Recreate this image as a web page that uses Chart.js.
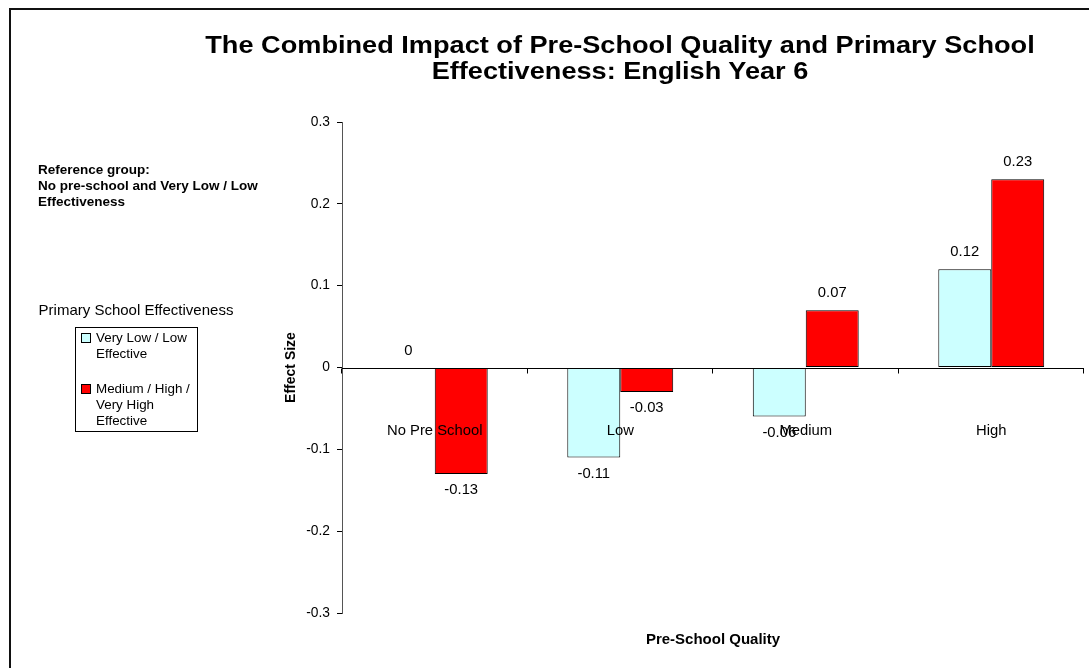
<!DOCTYPE html>
<html>
<head>
<meta charset="utf-8">
<script src="https://cdn.jsdelivr.net/npm/chart.js@4"></script>
<style>
  html, body { margin: 0; padding: 0; background: #fff; }
  body { width: 1089px; height: 668px; position: relative; overflow: hidden; font-family: "Liberation Sans", Arial, sans-serif; color: #000; }
  #frame { position: absolute; left: 9px; top: 8px; width: 1200px; height: 700px; border-left: 2px solid #111; border-top: 2px solid #111; }
  #wrap { position: absolute; left: 0; top: 0; width: 1089px; height: 668px; }
  .title { position: absolute; left: 170px; width: 900px; top: 32px; text-align: center; font-weight: bold; font-size: 23px; line-height: 26px; transform: scaleX(1.18); transform-origin: 450px 0; }
  .ref { position: absolute; left: 38px; top: 162px; font-weight: bold; font-size: 13.5px; line-height: 16px; }
  .legtitle { position: absolute; left: 30px; top: 301px; width: 212px; text-align: center; font-size: 15px; }
  .legend { position: absolute; left: 75px; top: 327px; width: 123px; height: 105px; border: 1px solid #000; font-size: 13.4px; line-height: 16px; box-sizing: border-box; }
  .item { position: absolute; left: 20px; width: 100px; }
  .sw { position: absolute; left: -15px; top: 3px; width: 8px; height: 8px; border: 1px solid #000; }
</style>
</head>
<body>
<div id="frame"></div>
<div id="wrap"><canvas id="chart"></canvas></div>
<div class="title">The Combined Impact of Pre-School Quality and Primary School<br>Effectiveness: English Year 6</div>
<div class="ref">Reference group:<br>No pre-school and Very Low / Low<br>Effectiveness</div>
<div class="legtitle">Primary School Effectiveness</div>
<div class="legend">
  <div class="item" style="top:2px"><span class="sw" style="background:#ccffff"></span>Very Low / Low Effective</div>
  <div class="item" style="top:53px"><span class="sw" style="background:#ff0000"></span>Medium / High / Very High Effective</div>
</div>
<script>
// categories and series
const categories = ["No Pre School", "Low", "Medium", "High"];
const lowEffective = [0, -0.11, -0.06, 0.12];
const highEffective = [-0.13, -0.03, 0.07, 0.23];
const seriesNames = ["Very Low / Low Effective", "Medium / High / Very High Effective"];

const FONT = "'Liberation Sans', Arial, sans-serif";

// zero line, category ticks, category labels and value labels
const overlay = {
  id: "overlay",
  afterDatasetsDraw(chart) {
    const { ctx, chartArea } = chart;
    const x = chart.scales.x, y = chart.scales.y;
    const y0 = Math.round(y.getPixelForValue(0)) + 0.5;
    ctx.save();
    ctx.strokeStyle = "#000";
    ctx.lineWidth = 1;
    ctx.beginPath();
    ctx.moveTo(chartArea.left, y0);
    ctx.lineTo(chartArea.right, y0);
    const bounds = [chartArea.left];
    for (let i = 1; i < categories.length; i++) bounds.push((x.getPixelForValue(i - 1) + x.getPixelForValue(i)) / 2);
    bounds.push(chartArea.right);
    bounds.forEach((b) => { const bx = Math.round(b) - 0.5; ctx.moveTo(bx, y0); ctx.lineTo(bx, y0 + 5); });
    ctx.stroke();

    ctx.fillStyle = "#000";
    ctx.font = "14.8px " + FONT;
    ctx.textAlign = "center";
    ctx.textBaseline = "middle";
    categories.forEach((c, i) => ctx.fillText(c, x.getPixelForValue(i), y0 + 62));

    chart.data.datasets.forEach((ds, di) => {
      chart.getDatasetMeta(di).data.forEach((bar, i) => {
        const v = ds.data[i];
        const ty = v >= 0 ? bar.y - 17 : bar.y + 16;
        ctx.fillText(String(v), bar.x, ty);
      });
    });
    ctx.restore();
  }
};

new Chart(document.getElementById("chart"), {
  type: "bar",
  data: {
    labels: categories,
    datasets: [
      { label: seriesNames[0], data: lowEffective, backgroundColor: "#ccffff", borderColor: "#000", borderWidth: 1, borderSkipped: false },
      { label: seriesNames[1], data: highEffective, backgroundColor: "#ff0000", borderColor: "#000", borderWidth: 1, borderSkipped: false },
    ],
  },
  options: {
    responsive: true,
    maintainAspectRatio: false,
    animation: false,
    layout: { padding: { left: 280, right: 5, top: 122, bottom: 0 } },
    datasets: { bar: { categoryPercentage: 0.571, barPercentage: 1 } },
    plugins: { legend: { display: false }, title: { display: false }, tooltip: { enabled: false } },
    scales: {
      x: {
        offset: true,
        grid: { display: false },
        border: { display: false },
        ticks: { display: false },
        title: { display: true, text: "Pre-School Quality", font: { family: FONT, size: 15, weight: "bold" }, color: "#000", padding: { top: 4, bottom: 19 } },
        afterFit: (s) => { s.height = 55; },
      },
      y: {
        min: -0.3,
        max: 0.3,
        grid: { drawOnChartArea: false, drawTicks: true, tickLength: 5, color: "#000" },
        border: { display: true, color: "#555" },
        ticks: { stepSize: 0.1, padding: 7, color: "#000", font: { family: FONT, size: 13.8 }, callback: (v) => String(Number(v.toFixed(1))) },
        title: { display: true, text: "Effect Size", font: { family: FONT, size: 14, weight: "bold" }, color: "#000", padding: { top: 3, bottom: 4 } },
        afterFit: (s) => { s.width = 62; },
      },
    },
  },
  plugins: [overlay],
});
</script>
</body>
</html>
